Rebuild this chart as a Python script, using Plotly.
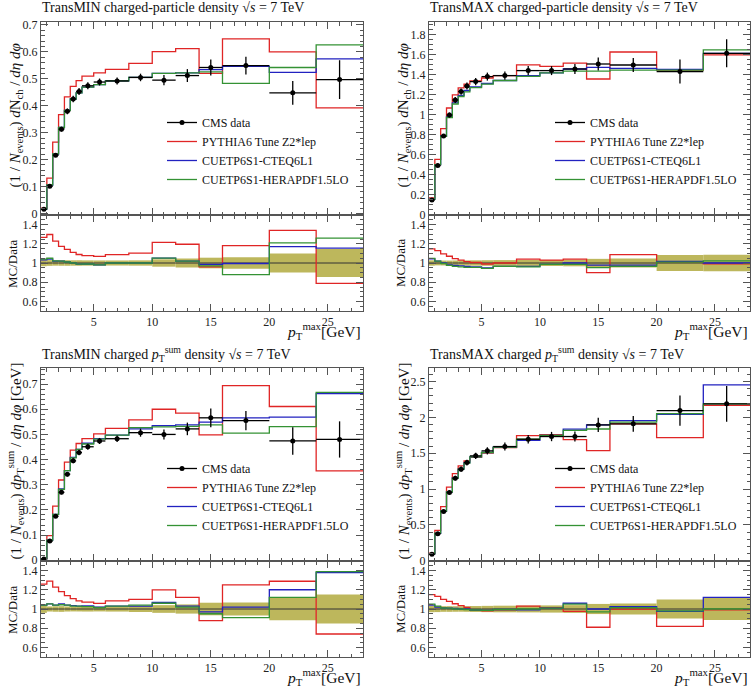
import plotly.graph_objects as go

# ---------------- data ----------------
edges = [0.5, 1, 1.5, 2, 2.5, 3, 3.5, 4, 5, 6, 8, 10, 12, 14, 16, 20, 24, 28]
x_ticks = [5, 10, 15, 20, 25]

# Panel 1: TransMIN charged-particle density
data1 = [0.015, 0.101, 0.216, 0.313, 0.379, 0.425, 0.453, 0.474, 0.488, 0.492, 0.505, 0.495, 0.512, 0.542, 0.549, 0.448, 0.497]
err1 = [0.0005, 0.003, 0.006, 0.009, 0.011, 0.012, 0.013, 0.013, 0.013, 0.013, 0.014, 0.019, 0.024, 0.030, 0.033, 0.044, 0.072]
z2_1 = [0.019, 0.131, 0.265, 0.367, 0.433, 0.472, 0.493, 0.510, 0.522, 0.535, 0.557, 0.601, 0.612, 0.520, 0.648, 0.600, 0.392]
cteq_1 = [0.0155, 0.105, 0.220, 0.319, 0.383, 0.425, 0.448, 0.469, 0.478, 0.492, 0.505, 0.520, 0.522, 0.534, 0.546, 0.524, 0.574]
hera_1 = [0.0156, 0.106, 0.221, 0.319, 0.383, 0.425, 0.448, 0.469, 0.478, 0.492, 0.505, 0.520, 0.522, 0.526, 0.483, 0.542, 0.626]

# Panel 2: TransMAX charged-particle density
data2 = [0.143, 0.487, 0.783, 0.993, 1.143, 1.227, 1.283, 1.327, 1.377, 1.387, 1.437, 1.437, 1.453, 1.503, 1.493, 1.427, 1.610]
err2 = [0.004, 0.012, 0.020, 0.025, 0.030, 0.032, 0.035, 0.037, 0.040, 0.042, 0.045, 0.045, 0.050, 0.065, 0.070, 0.120, 0.140]
z2_2 = [0.164, 0.550, 0.857, 1.063, 1.194, 1.264, 1.302, 1.334, 1.363, 1.387, 1.494, 1.480, 1.511, 1.353, 1.623, 1.441, 1.594]
cteq_2 = [0.149, 0.497, 0.783, 0.973, 1.114, 1.190, 1.238, 1.274, 1.308, 1.338, 1.387, 1.415, 1.453, 1.470, 1.460, 1.450, 1.610]
hera_2 = [0.150, 0.497, 0.779, 0.968, 1.103, 1.178, 1.225, 1.267, 1.301, 1.338, 1.380, 1.415, 1.431, 1.431, 1.441, 1.441, 1.645]

# Panel 3: TransMIN charged pTsum density
data3 = [0.005, 0.076, 0.175, 0.270, 0.342, 0.395, 0.428, 0.451, 0.474, 0.483, 0.507, 0.500, 0.522, 0.566, 0.555, 0.474, 0.480]
err3 = [0.0002, 0.002, 0.005, 0.008, 0.009, 0.010, 0.011, 0.012, 0.012, 0.013, 0.016, 0.020, 0.025, 0.037, 0.038, 0.055, 0.072]
z2_3 = [0.0063, 0.098, 0.215, 0.319, 0.390, 0.438, 0.464, 0.483, 0.502, 0.524, 0.558, 0.600, 0.585, 0.498, 0.694, 0.611, 0.355]
cteq_3 = [0.0052, 0.080, 0.182, 0.284, 0.356, 0.409, 0.441, 0.465, 0.483, 0.497, 0.522, 0.535, 0.538, 0.549, 0.566, 0.569, 0.662]
hera_3 = [0.0052, 0.080, 0.182, 0.282, 0.356, 0.407, 0.441, 0.462, 0.481, 0.497, 0.527, 0.530, 0.532, 0.538, 0.505, 0.531, 0.667]

# Panel 4: TransMAX charged pTsum density
data4 = [0.090, 0.374, 0.686, 0.951, 1.151, 1.277, 1.370, 1.463, 1.533, 1.593, 1.695, 1.733, 1.733, 1.895, 1.910, 2.095, 2.190]
err4 = [0.003, 0.012, 0.020, 0.028, 0.033, 0.036, 0.040, 0.045, 0.050, 0.055, 0.060, 0.065, 0.070, 0.100, 0.110, 0.210, 0.250]
z2_4 = [0.1035, 0.423, 0.755, 1.027, 1.214, 1.322, 1.393, 1.441, 1.502, 1.577, 1.746, 1.759, 1.690, 1.535, 1.910, 1.718, 2.168]
cteq_4 = [0.0936, 0.381, 0.693, 0.960, 1.157, 1.277, 1.370, 1.448, 1.510, 1.585, 1.678, 1.750, 1.837, 1.895, 1.955, 2.043, 2.455]
hera_4 = [0.0945, 0.385, 0.693, 0.960, 1.151, 1.277, 1.363, 1.448, 1.510, 1.585, 1.695, 1.750, 1.820, 1.838, 1.935, 2.053, 2.190]

series_names = ["CMS data", "PYTHIA6 Tune Z2*lep", "CUETP6S1-CTEQ6L1", "CUETP6S1-HERAPDF1.5LO"]

titles = [
    "TransMIN charged-particle density √<i>s</i> = 7 TeV",
    "TransMAX charged-particle density √<i>s</i> = 7 TeV",
    "TransMIN charged <i>p</i><sub>T</sub><sup>sum</sup> density √<i>s</i> = 7 TeV",
    "TransMAX charged <i>p</i><sub>T</sub><sup>sum</sup> density √<i>s</i> = 7 TeV",
]
ytitle_nch = "(1 / <i>N</i><sub>events</sub>) <i>d</i>N<sub>ch</sub> / <i>dη dφ</i>"
ytitle_pt = "(1 / <i>N</i><sub>events</sub>) <i>dp</i><sub>T</sub><sup>sum</sup> / <i>dη dφ</i> [GeV]"
xtitle = "<i>p</i><sub>T</sub><sup>max</sup>[GeV]"

# ---------------- style ----------------
W, H = 752, 687
FONT = "Liberation Serif"
C_RED = "#e02525"
C_BLUE = "#2222c0"
C_GREEN = "#349234"
C_BAND = "#bdb75c"
AX_COL = "#555555"

centers = [(a + b) / 2 for a, b in zip(edges[:-1], edges[1:])]
halfw = [(b - a) / 2 for a, b in zip(edges[:-1], edges[1:])]
widths = [b - a for a, b in zip(edges[:-1], edges[1:])]

def px_x(p):
    return p / W

def px_y(p):
    return 1 - p / H

cols = [(41, 363), (429, 750)]
rows = [((22, 215), (215, 311)), ((368, 561), (561, 657))]

panels = [
    dict(d=data1, e=err1, r=z2_1, b=cteq_1, g=hera_1, yr=[-0.006, 0.711], dt=0.1, mdt=0.02, col=0, row=0, yt=ytitle_nch),
    dict(d=data2, e=err2, r=z2_2, b=cteq_2, g=hera_2, yr=[-0.007, 1.923], dt=0.2, mdt=0.05, col=1, row=0, yt=ytitle_nch),
    dict(d=data3, e=err3, r=z2_3, b=cteq_3, g=hera_3, yr=[-0.003, 0.764], dt=0.1, mdt=0.02, col=0, row=1, yt=ytitle_pt),
    dict(d=data4, e=err4, r=z2_4, b=cteq_4, g=hera_4, yr=[-0.005, 2.69], dt=0.5, mdt=0.1, col=1, row=1, yt=ytitle_pt),
]

fig = go.Figure()
layout = {}
annotations = []

def axname(n):
    return "" if n == 1 else str(n)

common_axis = dict(
    showline=True, linecolor=AX_COL, linewidth=1, mirror="allticks",
    ticks="inside", ticklen=7, tickcolor=AX_COL, tickwidth=1,
    showgrid=False, zeroline=False,
    tickfont=dict(family=FONT, size=12, color="#222"),
)

for i, p in enumerate(panels):
    nm = 2 * i + 1
    nr = 2 * i + 2
    xm, ym = "x" + axname(nm), "y" + axname(nm)
    xr, yr_ = "x" + axname(nr), "y" + axname(nr)
    leg = "legend" + axname(i + 1)
    x0, x1 = cols[p["col"]]
    (mt, mb), (rt, rb) = rows[p["row"]]

    # axes
    layout["xaxis" + axname(nm)] = dict(common_axis, domain=[px_x(x0), px_x(x1)], range=[0.5, 28],
                                        anchor=ym, showticklabels=False, matches="x" + axname(nr),
                                        tickvals=x_ticks, minor=dict(dtick=1, tick0=0, ticks="inside", ticklen=3.5, tickcolor=AX_COL))
    layout["yaxis" + axname(nm)] = dict(common_axis, domain=[px_y(mb), px_y(mt)], range=p["yr"],
                                        anchor=xm, dtick=p["dt"], tick0=0,
                                        minor=dict(dtick=p["mdt"], tick0=0, ticks="inside", ticklen=3.5, tickcolor=AX_COL))
    layout["xaxis" + axname(nr)] = dict(common_axis, domain=[px_x(x0), px_x(x1)], range=[0.5, 28],
                                        anchor=yr_, tickvals=x_ticks,
                                        minor=dict(dtick=1, tick0=0, ticks="inside", ticklen=3.5, tickcolor=AX_COL))
    layout["yaxis" + axname(nr)] = dict(common_axis, domain=[px_y(rb), px_y(rt)], range=[0.5, 1.5],
                                        anchor=xr, tickvals=[0.6, 0.8, 1.0, 1.2, 1.4],
                                        minor=dict(dtick=0.05, tick0=0, ticks="inside", ticklen=3.5, tickcolor=AX_COL))

    d = p["d"]
    rel = [e / v for e, v in zip(p["e"], d)]

    # ratio band
    fig.add_trace(go.Bar(x=centers, y=[2 * r for r in rel], base=[1 - r for r in rel], width=widths,
                         marker=dict(color=C_BAND, line=dict(width=0)), showlegend=False,
                         xaxis=xr, yaxis=yr_, hoverinfo="skip"))
    fig.add_trace(go.Scatter(x=edges, y=[v / v for v in d] + [1], mode="lines", line=dict(color="#333", width=1, shape="hv"),
                             showlegend=False, xaxis=xr, yaxis=yr_))

    # MC histograms + ratios
    for vals, col, name in [(p["r"], C_RED, series_names[1]), (p["b"], C_BLUE, series_names[2]), (p["g"], C_GREEN, series_names[3])]:
        fig.add_trace(go.Scatter(x=edges, y=vals + [vals[-1]], mode="lines", line=dict(color=col, width=1.3, shape="hv"),
                                 name=name, legend=leg, xaxis=xm, yaxis=ym))
        ratio = [m / v for m, v in zip(vals, d)]
        fig.add_trace(go.Scatter(x=edges, y=ratio + [ratio[-1]], mode="lines", line=dict(color=col, width=1.3, shape="hv"),
                                 showlegend=False, xaxis=xr, yaxis=yr_))

    # data points
    fig.add_trace(go.Scatter(x=centers, y=d, mode="markers", marker=dict(color="black", size=5),
                             error_y=dict(type="data", array=p["e"], color="black", thickness=1.3, width=0),
                             error_x=dict(type="data", array=halfw, color="black", thickness=1.3, width=0),
                             showlegend=False, xaxis=xm, yaxis=ym))
    fig.add_trace(go.Scatter(x=[None], y=[None], mode="lines+markers", marker=dict(color="black", size=5),
                             line=dict(color="black", width=1.3), name=series_names[0], legend=leg,
                             xaxis=xm, yaxis=ym, legendrank=1))

    # legend
    leg_top = mt + 86
    layout[leg] = dict(x=px_x(x0 + 121), y=px_y(leg_top), xanchor="left", yanchor="top",
                       bgcolor="rgba(0,0,0,0)", font=dict(family=FONT, size=12, color="#111"),
                       tracegroupgap=0, itemwidth=30, traceorder="normal")

    # title
    annotations.append(dict(text=titles[i], x=px_x(x0 - 1), y=px_y(mt - 14), xref="paper", yref="paper",
                            xanchor="left", yanchor="middle", showarrow=False,
                            font=dict(family=FONT, size=14, color="#111")))
    # y titles
    annotations.append(dict(text=p["yt"], x=px_x(x0 - 26), y=px_y((mt + mb) / 2 - 3), xref="paper", yref="paper",
                            xanchor="center", yanchor="middle", textangle=-90, showarrow=False,
                            font=dict(family=FONT, size=15, color="#111")))
    annotations.append(dict(text="MC/Data", x=px_x(x0 - 29), y=px_y((rt + rb) / 2), xref="paper", yref="paper",
                            xanchor="center", yanchor="middle", textangle=-90, showarrow=False,
                            font=dict(family=FONT, size=13, color="#111")))
    # x title
    annotations.append(dict(text=xtitle, x=px_x(x1), y=px_y(rb + 20), xref="paper", yref="paper",
                            xanchor="right", yanchor="middle", showarrow=False,
                            font=dict(family=FONT, size=15.5, color="#111")))

fig.update_layout(
    width=W, height=H, margin=dict(l=0, r=0, t=0, b=0, autoexpand=False),
    paper_bgcolor="white", plot_bgcolor="white",
    barmode="overlay", annotations=annotations,
    font=dict(family=FONT),
    **layout,
)

fig.write_html("out.html", config={"displayModeBar": False},
               post_script="document.body.style.margin='0px';document.body.style.overflow='hidden';")
